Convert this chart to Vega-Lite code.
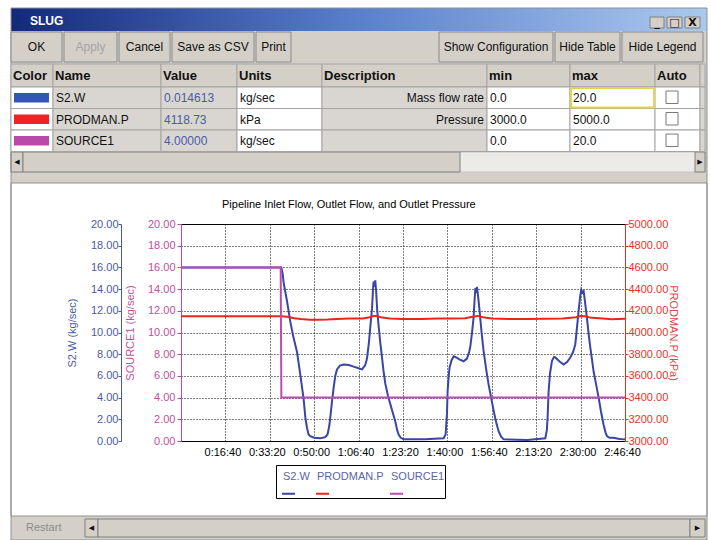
{
  "$schema": "https://vega.github.io/schema/vega-lite/v6.json",
  "width": 444,
  "height": 217,
  "autosize": {"type": "none"},
  "padding": {"left": 181, "top": 224, "right": 86, "bottom": 99},
  "background": "white",
  "config": {
    "view": {"stroke": "black", "strokeWidth": 1},
    "font": "Liberation Sans",
    "axis": {"labelFont": "Liberation Sans", "titleFont": "Liberation Sans", "labelFontSize": 11, "titleFontSize": 11, "titleFontWeight": "normal"},
    "text": {"font": "Liberation Sans"},
    "legend": {"labelFont": "Liberation Sans", "titleFont": "Liberation Sans"}
  },
  "title": {"text": "Pipeline Inlet Flow, Outlet Flow, and Outlet Pressure", "frame": "group", "anchor": "start", "dx": 41, "offset": 0, "dy": 202, "fontSize": 11, "fontWeight": "normal", "font": "Liberation Sans", "color": "black"},
  "datasets": {
    "chrome": [
      {"k": "bg", "a": 0, "b": 15, "c": 0, "d": 13},
      {"k": "bg", "a": 0, "b": 15, "c": 14, "d": 17},
      {"k": "title", "a": 0, "b": 15, "c": 0, "d": 3},
      {"k": "track", "a": 0, "b": 14, "c": 11, "d": 12},
      {"k": "track", "a": 3, "b": 14, "c": 15, "d": 16},
      {"k": "raised", "a": 6, "b": 7, "c": 1, "d": 2},
      {"k": "raised", "a": 8, "b": 9, "c": 1, "d": 2},
      {"k": "raised", "a": 10, "b": 13, "c": 1, "d": 2},
      {"k": "raised", "a": 0, "b": 1, "c": 11, "d": 12},
      {"k": "raised", "a": 1, "b": 5, "c": 11, "d": 12},
      {"k": "raised", "a": 12, "b": 14, "c": 11, "d": 12},
      {"k": "raised", "a": 3, "b": 4, "c": 15, "d": 16},
      {"k": "raised", "a": 4, "b": 11, "c": 15, "d": 16},
      {"k": "raised", "a": 11, "b": 14, "c": 15, "d": 16},
      {"k": "outline", "a": 0, "b": 15, "c": 0, "d": 17},
      {"k": "outline", "a": 0, "b": 15, "c": 13, "d": 14},
      {"k": "g", "a": 6.5, "c": 1.5, "t": "_"},
      {"k": "g", "a": 8.5, "c": 1.5, "t": "□"},
      {"k": "g", "a": 11.5, "c": 1.5, "t": "X"},
      {"k": "arrow", "a": 0.5, "c": 11.5, "t": "◀"},
      {"k": "arrow", "a": 13, "c": 11.5, "t": "▶"},
      {"k": "arrow", "a": 3.5, "c": 15.5, "t": "◀"},
      {"k": "arrow", "a": 12.5, "c": 15.5, "t": "▶"},
      {"k": "slug", "a": 2, "c": 1.5, "t": "SLUG"},
      {"k": "restart", "a": 1, "c": 15.5, "t": "Restart"}
    ],
    "tb": [
      {"b": 0, "b2": 1, "m": 0.5, "t": "OK"},
      {"b": 1, "b2": 2, "m": 1.5, "t": "Apply"},
      {"b": 2, "b2": 3, "m": 2.5, "t": "Cancel"},
      {"b": 3, "b2": 4, "m": 3.5, "t": "Save as CSV"},
      {"b": 4, "b2": 5, "m": 4.5, "t": "Print"},
      {"b": 6, "b2": 7, "m": 6.5, "t": "Show Configuration"},
      {"b": 7, "b2": 8, "m": 7.5, "t": "Hide Table"},
      {"b": 8, "b2": 9, "m": 8.5, "t": "Hide Legend"}
    ],
    "cells": [
      {"c": 0, "c2": 1, "r": 6, "r2": 7, "t": "Color"},
      {"c": 1, "c2": 2, "r": 6, "r2": 7, "t": "Name"},
      {"c": 2, "c2": 3, "r": 6, "r2": 7, "t": "Value"},
      {"c": 3, "c2": 4, "r": 6, "r2": 7, "t": "Units"},
      {"c": 4, "c2": 5, "r": 6, "r2": 7, "t": "Description"},
      {"c": 5, "c2": 6, "r": 6, "r2": 7, "t": "min"},
      {"c": 6, "c2": 7, "r": 6, "r2": 7, "t": "max"},
      {"c": 7, "c2": 8, "r": 6, "r2": 7, "t": "Auto"},
      {"c": 8, "c2": 9, "r": 6, "r2": 7, "t": ""},
      {"c": 0, "c2": 1, "r": 7, "r2": 8, "t": ""},
      {"c": 1, "c2": 2, "r": 7, "r2": 8, "t": "S2.W"},
      {"c": 2, "c2": 3, "r": 7, "r2": 8, "t": "0.014613"},
      {"c": 3, "c2": 4, "r": 7, "r2": 8, "t": "kg/sec"},
      {"c": 4, "c2": 5, "r": 7, "r2": 8, "t": "Mass flow rate"},
      {"c": 5, "c2": 6, "r": 7, "r2": 8, "t": "0.0"},
      {"c": 6, "c2": 7, "r": 7, "r2": 8, "t": "20.0"},
      {"c": 7, "c2": 8, "r": 7, "r2": 8, "t": ""},
      {"c": 8, "c2": 9, "r": 7, "r2": 8, "t": ""},
      {"c": 0, "c2": 1, "r": 8, "r2": 9, "t": ""},
      {"c": 1, "c2": 2, "r": 8, "r2": 9, "t": "PRODMAN.P"},
      {"c": 2, "c2": 3, "r": 8, "r2": 9, "t": "4118.73"},
      {"c": 3, "c2": 4, "r": 8, "r2": 9, "t": "kPa"},
      {"c": 4, "c2": 5, "r": 8, "r2": 9, "t": "Pressure"},
      {"c": 5, "c2": 6, "r": 8, "r2": 9, "t": "3000.0"},
      {"c": 6, "c2": 7, "r": 8, "r2": 9, "t": "5000.0"},
      {"c": 7, "c2": 8, "r": 8, "r2": 9, "t": ""},
      {"c": 8, "c2": 9, "r": 8, "r2": 9, "t": ""},
      {"c": 0, "c2": 1, "r": 9, "r2": 10, "t": ""},
      {"c": 1, "c2": 2, "r": 9, "r2": 10, "t": "SOURCE1"},
      {"c": 2, "c2": 3, "r": 9, "r2": 10, "t": "4.00000"},
      {"c": 3, "c2": 4, "r": 9, "r2": 10, "t": "kg/sec"},
      {"c": 4, "c2": 5, "r": 9, "r2": 10, "t": ""},
      {"c": 5, "c2": 6, "r": 9, "r2": 10, "t": "0.0"},
      {"c": 6, "c2": 7, "r": 9, "r2": 10, "t": "20.0"},
      {"c": 7, "c2": 8, "r": 9, "r2": 10, "t": ""},
      {"c": 8, "c2": 9, "r": 9, "r2": 10, "t": ""}
    ],
    "ts": [
      {"s": "S2.W", "t": 0, "v": 16.0}, {"s": "S2.W", "t": 2260, "v": 16.0}, {"s": "S2.W", "t": 2290, "v": 15.4}, {"s": "S2.W", "t": 2311, "v": 14.6}, {"s": "S2.W", "t": 2387, "v": 12.9}, {"s": "S2.W", "t": 2462, "v": 11.0}, {"s": "S2.W", "t": 2530, "v": 9.6}, {"s": "S2.W", "t": 2613, "v": 8.2}, {"s": "S2.W", "t": 2649, "v": 7.2}, {"s": "S2.W", "t": 2687, "v": 6.1}, {"s": "S2.W", "t": 2761, "v": 3.9}, {"s": "S2.W", "t": 2800, "v": 2.2}, {"s": "S2.W", "t": 2838, "v": 1.2}, {"s": "S2.W", "t": 2874, "v": 0.6}, {"s": "S2.W", "t": 2912, "v": 0.45}, {"s": "S2.W", "t": 3000, "v": 0.3}, {"s": "S2.W", "t": 3137, "v": 0.25}, {"s": "S2.W", "t": 3250, "v": 0.35}, {"s": "S2.W", "t": 3300, "v": 0.6}, {"s": "S2.W", "t": 3340, "v": 1.4}, {"s": "S2.W", "t": 3363, "v": 2.2}, {"s": "S2.W", "t": 3400, "v": 3.6}, {"s": "S2.W", "t": 3437, "v": 4.9}, {"s": "S2.W", "t": 3475, "v": 6.0}, {"s": "S2.W", "t": 3513, "v": 6.6}, {"s": "S2.W", "t": 3580, "v": 6.95}, {"s": "S2.W", "t": 3662, "v": 7.05}, {"s": "S2.W", "t": 3780, "v": 7.0}, {"s": "S2.W", "t": 3887, "v": 6.85}, {"s": "S2.W", "t": 4000, "v": 6.7}, {"s": "S2.W", "t": 4077, "v": 6.6}, {"s": "S2.W", "t": 4150, "v": 7.0}, {"s": "S2.W", "t": 4189, "v": 7.6}, {"s": "S2.W", "t": 4230, "v": 9.0}, {"s": "S2.W", "t": 4270, "v": 10.8}, {"s": "S2.W", "t": 4302, "v": 12.2}, {"s": "S2.W", "t": 4325, "v": 14.0}, {"s": "S2.W", "t": 4338, "v": 14.7}, {"s": "S2.W", "t": 4355, "v": 14.2}, {"s": "S2.W", "t": 4375, "v": 14.8}, {"s": "S2.W", "t": 4395, "v": 13.8}, {"s": "S2.W", "t": 4420, "v": 12.0}, {"s": "S2.W", "t": 4451, "v": 10.6}, {"s": "S2.W", "t": 4490, "v": 9.0}, {"s": "S2.W", "t": 4527, "v": 7.7}, {"s": "S2.W", "t": 4560, "v": 6.5}, {"s": "S2.W", "t": 4601, "v": 5.3}, {"s": "S2.W", "t": 4660, "v": 4.2}, {"s": "S2.W", "t": 4714, "v": 3.4}, {"s": "S2.W", "t": 4770, "v": 2.6}, {"s": "S2.W", "t": 4826, "v": 1.8}, {"s": "S2.W", "t": 4870, "v": 1.0}, {"s": "S2.W", "t": 4901, "v": 0.6}, {"s": "S2.W", "t": 4950, "v": 0.3}, {"s": "S2.W", "t": 5014, "v": 0.15}, {"s": "S2.W", "t": 5500, "v": 0.15}, {"s": "S2.W", "t": 5915, "v": 0.25}, {"s": "S2.W", "t": 5960, "v": 0.6}, {"s": "S2.W", "t": 5990, "v": 2.5}, {"s": "S2.W", "t": 6005, "v": 4.6}, {"s": "S2.W", "t": 6030, "v": 6.0}, {"s": "S2.W", "t": 6050, "v": 6.8}, {"s": "S2.W", "t": 6090, "v": 7.4}, {"s": "S2.W", "t": 6140, "v": 7.8}, {"s": "S2.W", "t": 6200, "v": 7.7}, {"s": "S2.W", "t": 6280, "v": 7.5}, {"s": "S2.W", "t": 6365, "v": 7.35}, {"s": "S2.W", "t": 6440, "v": 7.6}, {"s": "S2.W", "t": 6490, "v": 8.2}, {"s": "S2.W", "t": 6516, "v": 8.7}, {"s": "S2.W", "t": 6555, "v": 10.0}, {"s": "S2.W", "t": 6590, "v": 11.4}, {"s": "S2.W", "t": 6615, "v": 13.2}, {"s": "S2.W", "t": 6630, "v": 14.1}, {"s": "S2.W", "t": 6650, "v": 13.9}, {"s": "S2.W", "t": 6665, "v": 14.2}, {"s": "S2.W", "t": 6690, "v": 13.4}, {"s": "S2.W", "t": 6725, "v": 12.0}, {"s": "S2.W", "t": 6770, "v": 10.0}, {"s": "S2.W", "t": 6815, "v": 8.3}, {"s": "S2.W", "t": 6870, "v": 6.7}, {"s": "S2.W", "t": 6928, "v": 5.2}, {"s": "S2.W", "t": 6985, "v": 4.0}, {"s": "S2.W", "t": 7041, "v": 2.8}, {"s": "S2.W", "t": 7100, "v": 1.7}, {"s": "S2.W", "t": 7153, "v": 0.9}, {"s": "S2.W", "t": 7210, "v": 0.4}, {"s": "S2.W", "t": 7266, "v": 0.15}, {"s": "S2.W", "t": 7800, "v": 0.1}, {"s": "S2.W", "t": 8205, "v": 0.25}, {"s": "S2.W", "t": 8240, "v": 1.0}, {"s": "S2.W", "t": 8257, "v": 2.2}, {"s": "S2.W", "t": 8280, "v": 4.6}, {"s": "S2.W", "t": 8310, "v": 6.2}, {"s": "S2.W", "t": 8356, "v": 7.4}, {"s": "S2.W", "t": 8400, "v": 7.75}, {"s": "S2.W", "t": 8430, "v": 7.7}, {"s": "S2.W", "t": 8520, "v": 7.35}, {"s": "S2.W", "t": 8617, "v": 7.05}, {"s": "S2.W", "t": 8700, "v": 7.3}, {"s": "S2.W", "t": 8768, "v": 7.7}, {"s": "S2.W", "t": 8830, "v": 8.2}, {"s": "S2.W", "t": 8880, "v": 8.9}, {"s": "S2.W", "t": 8920, "v": 10.5}, {"s": "S2.W", "t": 8955, "v": 12.0}, {"s": "S2.W", "t": 8990, "v": 13.3}, {"s": "S2.W", "t": 9016, "v": 13.95}, {"s": "S2.W", "t": 9040, "v": 13.7}, {"s": "S2.W", "t": 9069, "v": 13.8}, {"s": "S2.W", "t": 9100, "v": 12.8}, {"s": "S2.W", "t": 9144, "v": 11.3}, {"s": "S2.W", "t": 9180, "v": 9.9}, {"s": "S2.W", "t": 9219, "v": 8.6}, {"s": "S2.W", "t": 9260, "v": 7.4}, {"s": "S2.W", "t": 9293, "v": 6.4}, {"s": "S2.W", "t": 9350, "v": 5.2}, {"s": "S2.W", "t": 9406, "v": 4.0}, {"s": "S2.W", "t": 9460, "v": 2.7}, {"s": "S2.W", "t": 9518, "v": 1.5}, {"s": "S2.W", "t": 9560, "v": 0.8}, {"s": "S2.W", "t": 9594, "v": 0.45}, {"s": "S2.W", "t": 9650, "v": 0.3}, {"s": "S2.W", "t": 9743, "v": 0.3}, {"s": "S2.W", "t": 9850, "v": 0.2}, {"s": "S2.W", "t": 9968, "v": 0.15}, {"s": "S2.W", "t": 10000, "v": 0.15},
      {"s": "PRODMAN.P", "t": 0, "v": 4150}, {"s": "PRODMAN.P", "t": 2250, "v": 4150}, {"s": "PRODMAN.P", "t": 2400, "v": 4145}, {"s": "PRODMAN.P", "t": 2550, "v": 4132}, {"s": "PRODMAN.P", "t": 2700, "v": 4125}, {"s": "PRODMAN.P", "t": 2900, "v": 4118}, {"s": "PRODMAN.P", "t": 3100, "v": 4117}, {"s": "PRODMAN.P", "t": 3300, "v": 4120}, {"s": "PRODMAN.P", "t": 3500, "v": 4125}, {"s": "PRODMAN.P", "t": 3800, "v": 4128}, {"s": "PRODMAN.P", "t": 4100, "v": 4130}, {"s": "PRODMAN.P", "t": 4250, "v": 4140}, {"s": "PRODMAN.P", "t": 4330, "v": 4152}, {"s": "PRODMAN.P", "t": 4400, "v": 4152}, {"s": "PRODMAN.P", "t": 4500, "v": 4140}, {"s": "PRODMAN.P", "t": 4700, "v": 4130}, {"s": "PRODMAN.P", "t": 5000, "v": 4125}, {"s": "PRODMAN.P", "t": 5400, "v": 4125}, {"s": "PRODMAN.P", "t": 5800, "v": 4128}, {"s": "PRODMAN.P", "t": 6100, "v": 4130}, {"s": "PRODMAN.P", "t": 6400, "v": 4132}, {"s": "PRODMAN.P", "t": 6600, "v": 4148}, {"s": "PRODMAN.P", "t": 6680, "v": 4153}, {"s": "PRODMAN.P", "t": 6800, "v": 4140}, {"s": "PRODMAN.P", "t": 7000, "v": 4128}, {"s": "PRODMAN.P", "t": 7400, "v": 4124}, {"s": "PRODMAN.P", "t": 7800, "v": 4124}, {"s": "PRODMAN.P", "t": 8200, "v": 4127}, {"s": "PRODMAN.P", "t": 8600, "v": 4130}, {"s": "PRODMAN.P", "t": 8900, "v": 4140}, {"s": "PRODMAN.P", "t": 9000, "v": 4152}, {"s": "PRODMAN.P", "t": 9100, "v": 4150}, {"s": "PRODMAN.P", "t": 9250, "v": 4135}, {"s": "PRODMAN.P", "t": 9500, "v": 4128}, {"s": "PRODMAN.P", "t": 9700, "v": 4122}, {"s": "PRODMAN.P", "t": 9850, "v": 4124}, {"s": "PRODMAN.P", "t": 10000, "v": 4126},
      {"s": "SOURCE1", "t": 0, "v": 16}, {"s": "SOURCE1", "t": 2245, "v": 16}, {"s": "SOURCE1", "t": 2260, "v": 4}, {"s": "SOURCE1", "t": 10000, "v": 4}
    ]
  },
  "layer": [
    {
      "data": {"name": "chrome"},
      "transform": [{"filter": "datum.k == 'bg'"}],
      "mark": {"type": "rect", "fill": "#d4d0c8"},
      "encoding": {
        "x": {"field": "a", "type": "quantitative", "axis": null, "scale": {"domain": [0,1,2,3,4,5,6,7,8,9,10,11,12,13,14,15], "range": [-170,-158,-151,-96,-83,279,469,483,486,501,504,509,514,519,524,526], "zero": false, "nice": false}},
        "x2": {"field": "b"},
        "y": {"field": "c", "type": "quantitative", "axis": null, "scale": {"domain": [0,1,2,3,4,5,6,7,8,9,10,11,12,13,14,15,16,17], "range": [-216,-207,-196,-193,-192,-162,-160,-137,-115.5,-94,-72.5,-72,-52,-41,292,295,313,316], "zero": false, "nice": false}},
        "y2": {"field": "d"}
      }
    },
    {
      "data": {"name": "chrome"},
      "transform": [{"filter": "datum.k == 'title'"}],
      "mark": {"type": "rect", "fill": {"gradient": "linear", "x1": 0, "y1": 0, "x2": 1, "y2": 0, "stops": [{"offset": 0, "color": "#13297a"}, {"offset": 0.5, "color": "#5a80cc"}, {"offset": 1, "color": "#abc9ee"}]}},
      "encoding": {
        "x": {"field": "a", "type": "quantitative", "axis": null, "scale": {"domain": [0,1,2,3,4,5,6,7,8,9,10,11,12,13,14,15], "range": [-170,-158,-151,-96,-83,279,469,483,486,501,504,509,514,519,524,526], "zero": false, "nice": false}},
        "x2": {"field": "b"},
        "y": {"field": "c", "type": "quantitative", "axis": null, "scale": {"domain": [0,1,2,3,4,5,6,7,8,9,10,11,12,13,14,15,16,17], "range": [-216,-207,-196,-193,-192,-162,-160,-137,-115.5,-94,-72.5,-72,-52,-41,292,295,313,316], "zero": false, "nice": false}},
        "y2": {"field": "d"}
      }
    },
    {
      "data": {"name": "chrome"},
      "transform": [{"filter": "datum.k == 'track'"}],
      "mark": {"type": "rect", "fill": "#ecebe7", "stroke": "#c4c4c4", "strokeWidth": 1},
      "encoding": {
        "x": {"field": "a", "type": "quantitative", "axis": null, "scale": {"domain": [0,1,2,3,4,5,6,7,8,9,10,11,12,13,14,15], "range": [-170,-158,-151,-96,-83,279,469,483,486,501,504,509,514,519,524,526], "zero": false, "nice": false}},
        "x2": {"field": "b"},
        "y": {"field": "c", "type": "quantitative", "axis": null, "scale": {"domain": [0,1,2,3,4,5,6,7,8,9,10,11,12,13,14,15,16,17], "range": [-216,-207,-196,-193,-192,-162,-160,-137,-115.5,-94,-72.5,-72,-52,-41,292,295,313,316], "zero": false, "nice": false}},
        "y2": {"field": "d"}
      }
    },
    {
      "data": {"name": "chrome"},
      "transform": [{"filter": "datum.k == 'raised'"}],
      "mark": {"type": "rect", "fill": "#d4d0c8", "stroke": "#808080", "strokeWidth": 1},
      "encoding": {
        "x": {"field": "a", "type": "quantitative", "axis": null, "scale": {"domain": [0,1,2,3,4,5,6,7,8,9,10,11,12,13,14,15], "range": [-170,-158,-151,-96,-83,279,469,483,486,501,504,509,514,519,524,526], "zero": false, "nice": false}},
        "x2": {"field": "b"},
        "y": {"field": "c", "type": "quantitative", "axis": null, "scale": {"domain": [0,1,2,3,4,5,6,7,8,9,10,11,12,13,14,15,16,17], "range": [-216,-207,-196,-193,-192,-162,-160,-137,-115.5,-94,-72.5,-72,-52,-41,292,295,313,316], "zero": false, "nice": false}},
        "y2": {"field": "d"}
      }
    },
    {
      "data": {"name": "chrome"},
      "transform": [{"filter": "datum.k == 'outline'"}],
      "mark": {"type": "rect", "filled": false, "color": "#909090", "strokeWidth": 1},
      "encoding": {
        "x": {"field": "a", "type": "quantitative", "axis": null, "scale": {"domain": [0,1,2,3,4,5,6,7,8,9,10,11,12,13,14,15], "range": [-170,-158,-151,-96,-83,279,469,483,486,501,504,509,514,519,524,526], "zero": false, "nice": false}},
        "x2": {"field": "b"},
        "y": {"field": "c", "type": "quantitative", "axis": null, "scale": {"domain": [0,1,2,3,4,5,6,7,8,9,10,11,12,13,14,15,16,17], "range": [-216,-207,-196,-193,-192,-162,-160,-137,-115.5,-94,-72.5,-72,-52,-41,292,295,313,316], "zero": false, "nice": false}},
        "y2": {"field": "d"}
      }
    },
    {
      "data": {"name": "chrome"},
      "transform": [{"filter": "datum.k == 'g' || datum.k == 'arrow'"}],
      "mark": {"type": "text", "font": "DejaVu Sans", "fontWeight": "bold", "align": "center", "baseline": "middle", "color": "#111111"},
      "encoding": {
        "x": {"field": "a", "type": "quantitative", "axis": null, "scale": {"domain": [0,1,2,3,4,5,6,7,8,9,10,11,12,13,14,15], "range": [-170,-158,-151,-96,-83,279,469,483,486,501,504,509,514,519,524,526], "zero": false, "nice": false}},
        "y": {"field": "c", "type": "quantitative", "axis": null, "scale": {"domain": [0,1,2,3,4,5,6,7,8,9,10,11,12,13,14,15,16,17], "range": [-216,-207,-196,-193,-192,-162,-160,-137,-115.5,-94,-72.5,-72,-52,-41,292,295,313,316], "zero": false, "nice": false}},
        "text": {"field": "t"},
        "size": {"condition": {"test": "datum.k == 'arrow'", "value": 7}, "value": 11}
      }
    },
    {
      "data": {"name": "chrome"},
      "transform": [{"filter": "datum.k == 'slug'"}],
      "mark": {"type": "text", "fontWeight": "bold", "fontSize": 12, "align": "left", "baseline": "middle", "dy": -2, "color": "white"},
      "encoding": {
        "x": {"field": "a", "type": "quantitative", "axis": null, "scale": {"domain": [0,1,2,3,4,5,6,7,8,9,10,11,12,13,14,15], "range": [-170,-158,-151,-96,-83,279,469,483,486,501,504,509,514,519,524,526], "zero": false, "nice": false}},
        "y": {"field": "c", "type": "quantitative", "axis": null, "scale": {"domain": [0,1,2,3,4,5,6,7,8,9,10,11,12,13,14,15,16,17], "range": [-216,-207,-196,-193,-192,-162,-160,-137,-115.5,-94,-72.5,-72,-52,-41,292,295,313,316], "zero": false, "nice": false}},
        "text": {"field": "t"}
      }
    },
    {
      "data": {"name": "chrome"},
      "transform": [{"filter": "datum.k == 'restart'"}],
      "mark": {"type": "text", "fontSize": 11, "align": "left", "baseline": "middle", "dx": 3, "color": "#8c8c8c"},
      "encoding": {
        "x": {"field": "a", "type": "quantitative", "axis": null, "scale": {"domain": [0,1,2,3,4,5,6,7,8,9,10,11,12,13,14,15], "range": [-170,-158,-151,-96,-83,279,469,483,486,501,504,509,514,519,524,526], "zero": false, "nice": false}},
        "y": {"field": "c", "type": "quantitative", "axis": null, "scale": {"domain": [0,1,2,3,4,5,6,7,8,9,10,11,12,13,14,15,16,17], "range": [-216,-207,-196,-193,-192,-162,-160,-137,-115.5,-94,-72.5,-72,-52,-41,292,295,313,316], "zero": false, "nice": false}},
        "text": {"field": "t"}
      }
    },
    {
      "data": {"name": "tb"},
      "mark": {"type": "rect", "fill": "#d4d0c8", "stroke": "#8a8a8a", "strokeWidth": 1, "x2Offset": -2},
      "encoding": {
        "x": {"field": "b", "type": "quantitative", "axis": null, "scale": {"domain": [0,1,2,3,4,5,6,7,8,9], "range": [-170,-117,-62,-9,75,112,258,374,441,524], "zero": false, "nice": false}},
        "x2": {"field": "b2"},
        "y": {"datum": 4, "type": "quantitative", "axis": null, "scale": {"domain": [0,1,2,3,4,5,6,7,8,9,10,11,12,13,14,15,16,17], "range": [-216,-207,-196,-193,-192,-162,-160,-137,-115.5,-94,-72.5,-72,-52,-41,292,295,313,316], "zero": false, "nice": false}},
        "y2": {"datum": 5}
      }
    },
    {
      "data": {"name": "tb"},
      "mark": {"type": "text", "fontSize": 12, "align": "center", "baseline": "middle", "dx": -1},
      "encoding": {
        "x": {"field": "m", "type": "quantitative", "axis": null, "scale": {"domain": [0,1,2,3,4,5,6,7,8,9], "range": [-170,-117,-62,-9,75,112,258,374,441,524], "zero": false, "nice": false}},
        "y": {"datum": 4.5, "type": "quantitative", "axis": null, "scale": {"domain": [0,1,2,3,4,5,6,7,8,9,10,11,12,13,14,15,16,17], "range": [-216,-207,-196,-193,-192,-162,-160,-137,-115.5,-94,-72.5,-72,-52,-41,292,295,313,316], "zero": false, "nice": false}},
        "text": {"field": "t"},
        "color": {"condition": {"test": "datum.t == 'Apply'", "value": "#a4a4a4"}, "value": "#111111"}
      }
    },
    {
      "data": {"name": "cells"},
      "mark": {"type": "rect", "stroke": "#a4a4a4", "strokeWidth": 1},
      "encoding": {
        "x": {"field": "c", "type": "quantitative", "axis": null, "scale": {"domain": [0,1,2,3,4,5,6,7,8,9], "range": [-170,-128,-20,56,141,306,389,474,519,524], "zero": false, "nice": false}},
        "x2": {"field": "c2"},
        "y": {"field": "r", "type": "quantitative", "axis": null, "scale": {"domain": [0,1,2,3,4,5,6,7,8,9,10,11,12,13,14,15,16,17], "range": [-216,-207,-196,-193,-192,-162,-160,-137,-115.5,-94,-72.5,-72,-52,-41,292,295,313,316], "zero": false, "nice": false}},
        "y2": {"field": "r2"},
        "fill": {"condition": [{"test": "datum.r == 6", "value": "#d4d0c8"}, {"test": "datum.c == 1 || datum.c == 2 || datum.c == 4 || datum.c == 8", "value": "#d9d6d1"}], "value": "white"}
      }
    },
    {
      "data": {"name": "cells"},
      "transform": [{"filter": "datum.c == 0 && datum.r > 6"}],
      "mark": {"type": "rect", "xOffset": 3, "x2Offset": -4, "yOffset": 6, "y2Offset": -6},
      "encoding": {
        "x": {"field": "c", "type": "quantitative", "axis": null, "scale": {"domain": [0,1,2,3,4,5,6,7,8,9], "range": [-170,-128,-20,56,141,306,389,474,519,524], "zero": false, "nice": false}},
        "x2": {"field": "c2"},
        "y": {"field": "r", "type": "quantitative", "axis": null, "scale": {"domain": [0,1,2,3,4,5,6,7,8,9,10,11,12,13,14,15,16,17], "range": [-216,-207,-196,-193,-192,-162,-160,-137,-115.5,-94,-72.5,-72,-52,-41,292,295,313,316], "zero": false, "nice": false}},
        "y2": {"field": "r2"},
        "fill": {"condition": [{"test": "datum.r == 7", "value": "#3456b8"}, {"test": "datum.r == 8", "value": "#ee2424"}], "value": "#b94aa9"}
      }
    },
    {
      "data": {"name": "cells"},
      "transform": [{"filter": "datum.c == 7 && datum.r > 6"}],
      "mark": {"type": "rect", "fill": "white", "stroke": "#7a7a7a", "strokeWidth": 1, "xOffset": 11, "x2Offset": -22, "yOffset": 4, "y2Offset": -5},
      "encoding": {
        "x": {"field": "c", "type": "quantitative", "axis": null, "scale": {"domain": [0,1,2,3,4,5,6,7,8,9], "range": [-170,-128,-20,56,141,306,389,474,519,524], "zero": false, "nice": false}},
        "x2": {"field": "c2"},
        "y": {"field": "r", "type": "quantitative", "axis": null, "scale": {"domain": [0,1,2,3,4,5,6,7,8,9,10,11,12,13,14,15,16,17], "range": [-216,-207,-196,-193,-192,-162,-160,-137,-115.5,-94,-72.5,-72,-52,-41,292,295,313,316], "zero": false, "nice": false}},
        "y2": {"field": "r2"}
      }
    },
    {
      "data": {"name": "cells"},
      "transform": [{"filter": "datum.c == 6 && datum.r == 7"}],
      "mark": {"type": "rect", "filled": false, "color": "#e2d44c", "strokeWidth": 2, "xOffset": 1, "x2Offset": -1, "yOffset": 1, "y2Offset": -1},
      "encoding": {
        "x": {"field": "c", "type": "quantitative", "axis": null, "scale": {"domain": [0,1,2,3,4,5,6,7,8,9], "range": [-170,-128,-20,56,141,306,389,474,519,524], "zero": false, "nice": false}},
        "x2": {"field": "c2"},
        "y": {"field": "r", "type": "quantitative", "axis": null, "scale": {"domain": [0,1,2,3,4,5,6,7,8,9,10,11,12,13,14,15,16,17], "range": [-216,-207,-196,-193,-192,-162,-160,-137,-115.5,-94,-72.5,-72,-52,-41,292,295,313,316], "zero": false, "nice": false}},
        "y2": {"field": "r2"}
      }
    },
    {
      "data": {"name": "cells"},
      "transform": [{"filter": "datum.r == 6 && datum.t != ''"}],
      "mark": {"type": "text", "fontSize": 13, "fontWeight": "bold", "align": "left", "baseline": "middle", "dx": 2, "dy": 11.5, "color": "#111111"},
      "encoding": {
        "x": {"field": "c", "type": "quantitative", "axis": null, "scale": {"domain": [0,1,2,3,4,5,6,7,8,9], "range": [-170,-128,-20,56,141,306,389,474,519,524], "zero": false, "nice": false}},
        "y": {"field": "r", "type": "quantitative", "axis": null, "scale": {"domain": [0,1,2,3,4,5,6,7,8,9,10,11,12,13,14,15,16,17], "range": [-216,-207,-196,-193,-192,-162,-160,-137,-115.5,-94,-72.5,-72,-52,-41,292,295,313,316], "zero": false, "nice": false}},
        "text": {"field": "t"}
      }
    },
    {
      "data": {"name": "cells"},
      "transform": [{"filter": "datum.r > 6 && datum.c != 4 && datum.t != ''"}],
      "mark": {"type": "text", "fontSize": 12, "align": "left", "baseline": "middle", "dx": 3, "dy": 11},
      "encoding": {
        "x": {"field": "c", "type": "quantitative", "axis": null, "scale": {"domain": [0,1,2,3,4,5,6,7,8,9], "range": [-170,-128,-20,56,141,306,389,474,519,524], "zero": false, "nice": false}},
        "y": {"field": "r", "type": "quantitative", "axis": null, "scale": {"domain": [0,1,2,3,4,5,6,7,8,9,10,11,12,13,14,15,16,17], "range": [-216,-207,-196,-193,-192,-162,-160,-137,-115.5,-94,-72.5,-72,-52,-41,292,295,313,316], "zero": false, "nice": false}},
        "text": {"field": "t"},
        "color": {"condition": {"test": "datum.c == 2", "value": "#4b5aa8"}, "value": "#111111"}
      }
    },
    {
      "data": {"name": "cells"},
      "transform": [{"filter": "datum.r > 6 && datum.c == 4 && datum.t != ''"}],
      "mark": {"type": "text", "fontSize": 12, "align": "right", "baseline": "middle", "dx": -3, "dy": 11, "color": "#111111"},
      "encoding": {
        "x": {"field": "c2", "type": "quantitative", "axis": null, "scale": {"domain": [0,1,2,3,4,5,6,7,8,9], "range": [-170,-128,-20,56,141,306,389,474,519,524], "zero": false, "nice": false}},
        "y": {"field": "r", "type": "quantitative", "axis": null, "scale": {"domain": [0,1,2,3,4,5,6,7,8,9,10,11,12,13,14,15,16,17], "range": [-216,-207,-196,-193,-192,-162,-160,-137,-115.5,-94,-72.5,-72,-52,-41,292,295,313,316], "zero": false, "nice": false}},
        "text": {"field": "t"}
      }
    },
    {
      "data": {"name": "ts"},
      "transform": [{"filter": "datum.s == 'S2.W'"}],
      "mark": {"type": "line", "strokeWidth": 2},
      "encoding": {
        "x": {"field": "t", "type": "quantitative", "scale": {"domain": [0, 10000], "zero": false, "nice": false},
          "axis": {"orient": "bottom", "title": null, "values": [1000,2000,3000,4000,5000,6000,7000,8000,9000,10000], "labelExpr": "utcFormat(datum.value * 1000, '%-H:%M:%S')", "grid": true, "gridColor": "black", "gridDash": [1, 2], "gridOpacity": 1, "ticks": false, "domainColor": "black", "labelColor": "black", "labelPadding": 5, "labelFlush": false, "labelOverlap": false, "labelOffset": -3}},
        "y": {"field": "v", "type": "quantitative", "scale": {"domain": [0, 20], "nice": false},
          "axis": {"orient": "left", "offset": 60, "values": [0,2,4,6,8,10,12,14,16,18,20], "format": ".2f", "grid": false, "domainColor": "#4a57a3", "tickColor": "#4a57a3", "labelColor": "#4a5aa5", "tickSize": 3, "labelPadding": 0, "title": "S2.W (kg/sec)", "titleColor": "#4a5aa5", "titlePadding": 13}},
        "color": {"field": "s", "type": "nominal", "scale": {"domain": ["S2.W", "PRODMAN.P", "SOURCE1"], "range": ["#3846a6", "#e8261e", "#c04aae"]},
          "legend": {"orient": "none", "legendX": 95, "legendY": 241, "direction": "horizontal", "title": " ", "titleOrient": "top", "titleFontSize": 11, "titlePadding": 10, "symbolType": "stroke", "symbolStrokeWidth": 2, "symbolSize": 169, "symbolOffset": 5, "labelOffset": -13, "columnPadding": 0, "labelColor": "#5865a8", "labelFontSize": 11, "strokeColor": "black", "fillColor": "white", "padding": 0, "encode": {"labels": {"update": {"dy": {"value": -17}}}}}}
      }
    },
    {
      "data": {"name": "ts"},
      "transform": [{"filter": "datum.s == 'PRODMAN.P'"}],
      "mark": {"type": "line", "strokeWidth": 2},
      "encoding": {
        "x": {"field": "t", "type": "quantitative", "scale": {"domain": [0, 10000], "zero": false, "nice": false}, "axis": null},
        "y": {"field": "v", "type": "quantitative", "scale": {"domain": [3000, 5000], "nice": false, "zero": false},
          "axis": {"orient": "right", "values": [3000,3200,3400,3600,3800,4000,4200,4400,4600,4800,5000], "format": ".2f", "grid": false, "domainColor": "#e0301e", "tickColor": "#e0301e", "labelColor": "#e0361f", "tickSize": 3, "labelPadding": 0, "title": "PRODMAN.P (kPa)", "titleColor": "#e04848", "titleAngle": 90, "titlePadding": 0}},
        "color": {"field": "s", "type": "nominal"}
      }
    },
    {
      "data": {"name": "ts"},
      "transform": [{"filter": "datum.s == 'SOURCE1'"}],
      "mark": {"type": "line", "strokeWidth": 2},
      "encoding": {
        "x": {"field": "t", "type": "quantitative", "scale": {"domain": [0, 10000], "zero": false, "nice": false}, "axis": null},
        "y": {"field": "v", "type": "quantitative", "scale": {"domain": [0, 20], "nice": false},
          "axis": {"orient": "left", "offset": 0, "values": [0,2,4,6,8,10,12,14,16,18,20], "format": ".2f", "grid": true, "gridColor": "black", "gridDash": [1, 2], "gridOpacity": 1, "domainColor": "#c04aa8", "tickColor": "#c04aa8", "labelColor": "#c0509c", "tickSize": 4, "labelPadding": 2, "title": "SOURCE1 (kg/sec)", "titleColor": "#c0509c", "titlePadding": 12}},
        "color": {"field": "s", "type": "nominal"}
      }
    }
  ],
  "resolve": {"scale": {"x": "independent", "y": "independent"}}
}
